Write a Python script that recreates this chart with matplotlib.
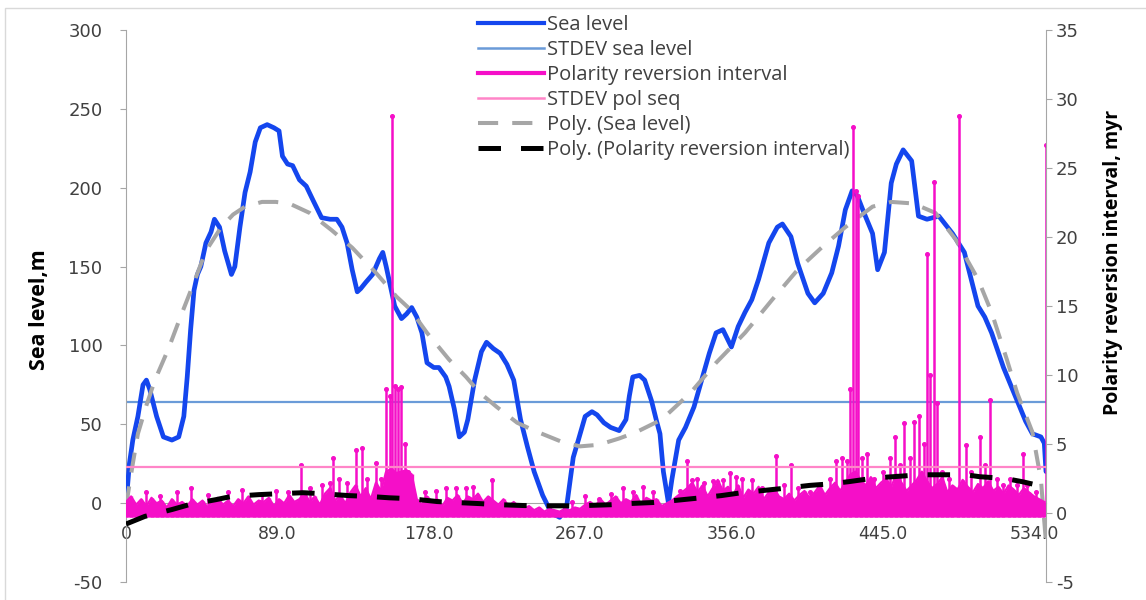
import matplotlib
matplotlib.use('Agg')
import matplotlib.pyplot as plt
from matplotlib.lines import Line2D
from matplotlib.patches import Rectangle

plt.rcParams['axes.unicode_minus'] = False

# ---------------- data ----------------
sea_age = [0, 1, 2, 4, 7, 10, 12, 14, 18, 22,
           27, 31, 34, 36, 38, 40, 42, 44, 47, 50,
           52, 55, 58, 62, 64, 67, 70, 73, 76, 79,
           83, 87, 90, 92, 95, 98, 102, 106, 110, 115,
           120, 124, 127, 130, 133, 136, 138, 141, 145, 149,
           151, 153, 155, 158, 162, 165, 168, 171, 174, 177,
           181, 184, 188, 190, 193, 196, 199, 201, 205, 209,
           212, 216, 220, 224, 228, 232, 236, 240, 245, 250,
           255, 259, 263, 266, 270, 274, 277, 281, 285, 290,
           294, 296, 298, 302, 305, 309, 312, 314, 316, 319,
           321, 325, 329, 334, 338, 343, 347, 351, 356, 360,
           364, 368, 372, 378, 383, 386, 391, 395, 401, 405,
           410, 415, 419, 423, 427, 430, 434, 439, 442, 446,
           450, 453, 457, 462, 466, 471, 478, 486, 493, 501,
           505, 509, 516, 524, 529, 533, 538, 540, 541]
sea_level = [0, 12, 25, 40, 55, 75, 78, 72, 55, 42,
             40, 42, 55, 80, 110, 135, 145, 150, 165, 172,
             180, 175, 160, 145, 150, 175, 197, 210, 229, 238,
             240, 238, 236, 220, 215, 214, 205, 201, 192, 181,
             180, 180, 175, 165, 148, 134, 136, 140, 145, 155,
             159, 150, 140, 125, 117, 120, 124, 118, 108, 89,
             86, 86, 80, 74, 60, 42, 45, 53, 78, 96,
             102, 98, 95, 88, 78, 53, 36, 20, 5, -6,
             -9, -3, 29, 40, 55, 58, 56, 51, 48, 46,
             53, 68, 80, 81, 78, 65, 52, 44, 20, 0,
             15, 40, 48, 61, 76, 95, 108, 110, 99, 112,
             121, 129, 142, 165, 175, 177, 169, 152, 133, 127,
             133, 146, 163, 186, 198, 195, 184, 171, 148, 159,
             203, 215, 224, 217, 182, 180, 182, 171, 159, 125,
             118, 108, 86, 65, 52, 44, 42, 38, 20]

sea_std = 64      # STDEV sea level (left axis)
pol_std = 3.3     # STDEV pol seq (right axis)

# polynomial trend of sea level (left axis)
gtr_age = [0, 4, 7, 12, 17, 25, 32, 40, 47, 56,
           63, 70, 80, 88, 96, 108, 121, 133, 147, 159,
           167, 177, 190, 200, 208, 218, 230, 240, 256, 267,
           278, 290, 300, 315, 332, 347, 364, 380, 395, 410,
           423, 439, 450, 463, 476, 488, 501, 509, 518, 524,
           533, 538, 541]
gtr_val = [-2, 25, 44, 62, 78, 98, 118, 140, 160, 175,
           183, 188, 191, 191, 190, 184, 173, 162, 146, 131,
           123, 108, 91, 80, 70, 61, 51, 46, 39, 36,
           37, 41, 45, 53, 70, 89, 108, 129, 148, 163,
           175, 188, 191, 190, 184, 167, 142, 121, 91, 70,
           45, 15, -25]

# polynomial trend of polarity reversion interval (right axis)
btr_age = [0, 11, 27, 37, 53, 62, 78, 90, 104, 115,
           131, 143, 155, 167, 183, 196, 208, 220, 234, 248,
           260, 270, 285, 295, 310, 322, 338, 350, 362, 374,
           390, 402, 413, 425, 441, 451, 467, 478, 494, 502,
           517, 527, 533]
btr_val = [-0.8, -0.25, 0.25, 0.6, 0.97, 1.2, 1.33, 1.4, 1.47, 1.4,
           1.26, 1.2, 1.1, 1.04, 0.83, 0.75, 0.68, 0.6, 0.54, 0.52,
           0.52, 0.54, 0.6, 0.68, 0.76, 0.9, 1.1, 1.26, 1.47, 1.62,
           1.83, 2.0, 2.1, 2.27, 2.55, 2.63, 2.77, 2.77, 2.77, 2.63,
           2.5, 2.27, 2.1]

# polarity reversion interval: individual spikes (right axis, myr)
spk_age = [12, 20, 30, 38, 48, 60, 68, 80, 88, 95,
           103, 108, 115, 120, 122, 125, 130, 135, 138.5, 142,
           147.3, 150, 153, 155, 156.5, 158, 160, 162, 164, 166,
           176, 182, 188, 194, 200, 204, 215, 262, 270, 278,
           285, 292, 298, 304, 310, 326, 330, 333, 336, 340,
           345, 351, 355, 359, 362, 368, 374, 382.4, 387, 391,
           395, 402, 408, 414, 417.7, 421, 424, 426, 427.4, 429,
           430.5, 433, 436, 440, 445, 449, 452, 455, 457.6, 461,
           463.6, 466.6, 469, 471.3, 473, 475.3, 477, 480, 484, 490,
           494, 497, 502, 505, 508, 512, 516, 520, 524, 527.5,
           530, 535, 541]
spk_val = [1.5, 1.2, 1.5, 1.8, 1.3, 1.5, 1.7, 1.4, 1.6, 1.5,
           3.5, 1.8, 2.0, 2.2, 4.0, 2.5, 2.2, 4.6, 4.7, 2.5,
           3.6, 2.5, 9.0, 8.5, 28.8, 9.2, 9.0, 9.1, 5.0, 3.0,
           1.5, 1.6, 1.8, 1.8, 1.8, 1.9, 2.4, 0.8, 1.2, 1.0,
           1.4, 1.8, 1.5, 1.9, 1.5, 1.6, 3.8, 2.4, 2.5, 2.2,
           2.3, 2.4, 2.9, 2.6, 2.5, 2.4, 1.8, 4.1, 2.0, 3.5,
           1.8, 1.5, 2.0, 2.5, 3.8, 4.0, 3.8, 9.0, 28.0, 23.3,
           23.0, 4.0, 4.3, 2.5, 3.0, 4.0, 5.5, 3.5, 6.5, 4.0,
           6.6, 7.0, 5.0, 18.8, 10.0, 24.0, 8.0, 3.0, 2.5, 28.8,
           4.9, 3.0, 5.5, 3.5, 8.2, 2.5, 2.0, 2.5, 2.0, 4.3,
           2.0, 1.5, 26.7]

# polarity reversion interval: low background values every 3 Myr
base_age = list(range(0, 541, 3))
base_val = [0.8, 1.2, 0.6, 1.0, 0.5, 1.1, 0.7, 0.9, 0.4, 1.0, 0.6,
            0.8, 0.5, 1.0, 0.6, 0.9, 0.4, 0.8, 1.1, 0.6, 0.9, 0.5, 1.0,
            0.7, 1.2, 0.6, 0.9, 0.8, 1.1, 0.5, 1.0, 0.7, 1.3, 0.8,
            1.0, 1.5, 0.8, 1.2, 0.6, 1.4, 1.8, 0.9, 1.3, 0.7, 1.5, 2.0,
            1.2, 1.8, 1.0, 2.2, 1.6,
            3.0, 3.2, 2.9, 3.0, 3.1, 2.8,
            1.0, 0.6, 1.2, 0.8, 1.0, 0.5, 1.1, 0.9, 1.3, 0.7, 1.2, 1.0,
            1.4, 0.8, 1.2, 0.9, 0.6, 1.0, 0.5, 0.8, 0.4,
            0.3, 0.5, 0.2, 0.4, 0.1, 0.3, 0.2, 0.1, 0.3, 0.2, 0.4, 0.3,
            0.6, 0.8,
            0.5, 1.0, 0.6, 0.9, 1.2, 0.7, 1.0, 0.8, 1.3, 0.6, 1.1, 0.9,
            1.0, 0.5, 0.7, 0.9, 1.2, 1.5,
            1.8, 2.2, 1.5, 2.0, 1.2, 1.8, 2.4, 1.6, 1.9, 1.3, 2.0, 1.1,
            1.7, 1.4, 1.9, 1.0, 1.5, 1.8, 1.2, 1.0, 1.4, 0.9, 1.3, 1.6,
            1.1, 1.5, 2.0, 1.3, 1.8, 2.2, 1.6,
            2.2, 2.8, 3.0, 2.4, 2.0, 2.6, 1.8, 2.2, 2.5, 1.9, 2.8, 2.2,
            1.6, 2.0, 2.4, 3.0, 2.3, 1.8, 2.1, 2.6, 1.5, 2.0, 1.7, 2.4,
            1.9, 1.5, 2.1, 1.8, 2.3, 1.6, 1.9, 1.4, 2.0, 1.7, 1.3, 1.8,
            1.5, 1.2, 1.0, 0.8]

x_ticks = [0, 89, 178, 267, 356, 445, 534]
x_ticklabels = ['0', '89.0', '178.0', '267.0', '356.0', '445.0', '534.0']
left_ticks = [-50, 0, 50, 100, 150, 200, 250, 300]
right_ticks = [-5, 0, 5, 10, 15, 20, 25, 30, 35]

labels = ['Sea level', 'STDEV sea level', 'Polarity reversion interval',
          'STDEV pol seq', 'Poly. (Sea level)',
          'Poly. (Polarity reversion interval)']

# ---------------- styles ----------------
SEA_C = '#1446EE'
SEA_STD_C = '#6A9BD8'
POL_C = '#F50FC8'
POL_STD_C = '#FF85C8'
GRAY_C = '#A6A6A6'
AX_C = '#A6A6A6'
TXT_C = '#404040'

W, H = 1146, 600
fig = plt.figure(figsize=(W / 100, H / 100), dpi=100)
fig.patch.set_facecolor('white')
ax = fig.add_axes([126 / W, 1 - 582 / H, (1046 - 126) / W, (582 - 30) / H])
ax2 = ax.twinx()
ax.patch.set_visible(False)
ax2.patch.set_visible(False)

# primary axis series
ax.plot(sea_age, sea_level, color=SEA_C, lw=3.4, solid_joinstyle='round',
        solid_capstyle='round', zorder=3)
ax.axhline(sea_std, color=SEA_STD_C, lw=1.6, zorder=2)
ax.plot(gtr_age, gtr_val, color=GRAY_C, lw=2.9, dashes=(5, 3.5), zorder=4)

# secondary axis series
ax2.fill_between(base_age, -0.3, base_val, color=POL_C, lw=0, zorder=2)
ax2.vlines(base_age, -0.3, base_val, color=POL_C, lw=2.4, zorder=2)
ax2.plot(base_age, base_val, color=POL_C, lw=1.6, zorder=2)
ax2.vlines(spk_age, 0, spk_val, color=POL_C, lw=1.8, zorder=2)
ax2.plot(spk_age, spk_val, ls='none', marker='o', ms=2.6, color=POL_C,
         zorder=2)
ax2.axhline(pol_std, color=POL_STD_C, lw=1.6, zorder=3)
ax2.plot(btr_age, btr_val, color='black', lw=3.6, dashes=(4.5, 4), zorder=4)

# axes limits / ticks
ax.set_xlim(0, 541)
ax.set_ylim(-50, 300)
ax2.set_ylim(-5, 35)

for s in ['top', 'right']:
    ax.spines[s].set_visible(False)
for s in ['top', 'left', 'bottom']:
    ax2.spines[s].set_visible(False)
ax.spines['left'].set_color(AX_C)
ax.spines['bottom'].set_color(AX_C)
ax.spines['bottom'].set_position(('data', 0))
ax2.spines['right'].set_color(AX_C)

ax.set_yticks(left_ticks)
ax2.set_yticks(right_ticks)
ax.set_xticks(x_ticks)
ax.set_xticklabels(x_ticklabels)

ax.tick_params(axis='y', direction='out', length=4, color=AX_C,
               labelcolor=TXT_C, labelsize=13, pad=13)
ax2.tick_params(axis='y', direction='out', length=4, color=AX_C,
                labelcolor=TXT_C, labelsize=13, pad=3)
ax.tick_params(axis='x', length=0, labelcolor=TXT_C, labelsize=12.5, pad=16)
for lab in ax.get_yticklabels() + ax2.get_yticklabels() + ax.get_xticklabels():
    lab.set_family('DejaVu Sans')

# axis titles
fig.text(40 / W, 1 - 310 / H, 'Sea level,m', rotation=90, ha='center',
         va='center', fontsize=15.5, fontweight='bold', family='Open Sans',
         color='black')
fig.text(1113 / W, 1 - 262 / H, 'Polarity reversion interval, myr',
         rotation=90, ha='center', va='center', fontsize=14,
         fontweight='bold', family='Open Sans', color='black')

# legend
handles = [
    Line2D([], [], color=SEA_C, lw=3.0),
    Line2D([], [], color=SEA_STD_C, lw=1.8),
    Line2D([], [], color=POL_C, lw=3.0),
    Line2D([], [], color=POL_STD_C, lw=1.8),
    Line2D([], [], color=GRAY_C, lw=2.9, dashes=(5, 3.5)),
    Line2D([], [], color='black', lw=3.6, dashes=(4.5, 4)),
]
leg = fig.legend(handles, labels, loc='upper left',
                 bbox_to_anchor=(478 / W, 1 - 15 / H), frameon=False,
                 prop={'family': 'Open Sans', 'size': 14.5}, handlelength=3.3,
                 handletextpad=0.15, labelspacing=0.25, borderpad=0,
                 borderaxespad=0)
for t in leg.get_texts():
    t.set_color(TXT_C)
leg.set_zorder(-1)

# chart area border
fig.add_artist(Rectangle((5 / W, -0.1), 1.2, 1 - 8 / H + 0.1,
                         transform=fig.transFigure, fill=False,
                         edgecolor='#D9D9D9', lw=1))

fig.savefig('out.png', dpi=100)
